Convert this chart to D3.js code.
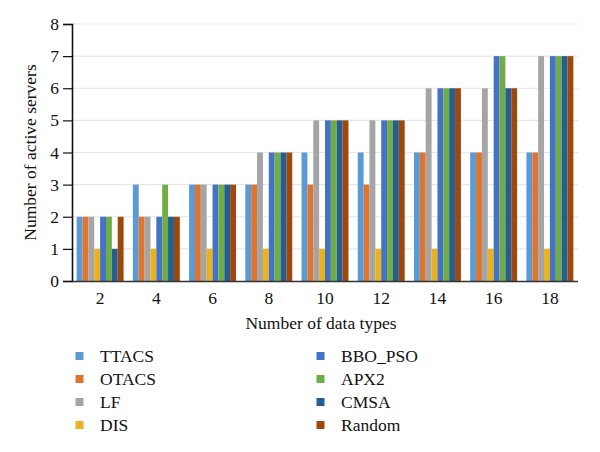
<!DOCTYPE html>
<html>
<head>
<meta charset="utf-8">
<script src="https://cdn.jsdelivr.net/npm/d3@7/dist/d3.min.js"></script>
<style>
body{margin:0;background:#fff;}
svg{display:block;}
text{font-family:"Liberation Serif","DejaVu Serif",serif;fill:#111;}
</style>
</head>
<body>
<svg id="chart" width="600" height="452"></svg>
<script>
const categories = ["2","4","6","8","10","12","14","16","18"];
const seriesNames = ["TTACS","OTACS","LF","DIS","BBO_PSO","APX2","CMSA","Random"];
const seriesColors = ["#5b9bd5","#dd7530","#a5a5a5","#eab31d","#4472c4","#70ad47","#255e91","#9e480e"];
const TTACS   = [2,3,3,3,4,4,4,4,4];
const OTACS   = [2,2,3,3,3,3,4,4,4];
const LF      = [2,2,3,4,5,5,6,6,7];
const DIS     = [1,1,1,1,1,1,1,1,1];
const BBO_PSO = [2,2,3,4,5,5,6,7,7];
const APX2    = [2,3,3,4,5,5,6,7,7];
const CMSA    = [1,2,3,4,5,5,6,6,7];
const Random  = [2,2,3,4,5,5,6,6,7];
const yTicks = [0,1,2,3,4,5,6,7,8];

const seriesValues = [TTACS,OTACS,LF,DIS,BBO_PSO,APX2,CMSA,Random];

const svg = d3.select("#chart");
const mLeft = 72, mRight = 578, mTop = 24, mBottom = 281;
const fs = "17.5px";

const x0 = d3.scaleBand().domain(categories).range([mLeft, mRight]).paddingInner(0.165).paddingOuter(0.0825);
const x1 = d3.scaleBand().domain(seriesNames).range([0, x0.bandwidth()]).padding(0);
const y = d3.scaleLinear().domain([0, 8]).range([mBottom, mTop]);

// gridlines
svg.append("g").selectAll("line").data(yTicks.filter(d => d > 0)).join("line")
  .attr("x1", mLeft).attr("x2", mRight)
  .attr("y1", d => y(d)).attr("y2", d => y(d))
  .attr("stroke", "#e6e6e6").attr("stroke-width", 1.2);

// bars
const groups = svg.append("g").selectAll("g").data(categories).join("g")
  .attr("transform", d => `translate(${x0(d)},0)`);
groups.selectAll("rect")
  .data((c, i) => seriesNames.map((s, j) => ({s, v: seriesValues[j][i], c: seriesColors[j]})))
  .join("rect")
  .attr("x", d => x1(d.s))
  .attr("width", x1.bandwidth())
  .attr("y", d => y(d.v))
  .attr("height", d => y(0) - y(d.v))
  .attr("fill", d => d.c);

// y axis
const yAxis = svg.append("g").attr("transform", `translate(${mLeft},0)`)
  .call(d3.axisLeft(y).tickValues(yTicks).tickSize(9).tickPadding(4).tickFormat(d3.format("d")));
yAxis.attr("font-family", null);
yAxis.select(".domain").attr("stroke", "#111").attr("stroke-width", 1.6);
yAxis.selectAll(".tick line").attr("stroke", "#111").attr("stroke-width", 1.2);
yAxis.selectAll("text").style("font-size", fs).attr("fill", "#111");

// x axis
const xAxis = svg.append("g").attr("transform", `translate(0,${mBottom})`)
  .call(d3.axisBottom(x0).tickSize(0).tickPadding(11));
xAxis.attr("font-family", null);
xAxis.select(".domain").attr("stroke", "#333").attr("stroke-width", 1.4).attr("d", `M${mLeft},0.5H${mRight}`);
xAxis.selectAll("text").style("font-size", fs).attr("fill", "#111");

// axis titles
svg.append("text").attr("x", (mLeft + mRight) / 2 - 4).attr("y", 329)
  .attr("text-anchor", "middle").style("font-size", fs).text("Number of data types");
svg.append("text").attr("transform", `translate(36,${(mTop + mBottom) / 2}) rotate(-90)`)
  .attr("text-anchor", "middle").style("font-size", fs).text("Number of active servers");

// legend
const legend = svg.append("g");
seriesNames.forEach((s, i) => {
  const col = Math.floor(i / 4), row = i % 4;
  const lx = col === 0 ? 75.5 : 316.5;
  const ly = 356 + row * 23;
  legend.append("rect").attr("x", lx).attr("y", ly - 4).attr("width", 8).attr("height", 8).attr("fill", seriesColors[i]);
  legend.append("text").attr("x", lx + 24.5).attr("y", ly).attr("dy", "0.35em")
    .style("font-size", fs).text(s);
});
</script>
</body>
</html>
